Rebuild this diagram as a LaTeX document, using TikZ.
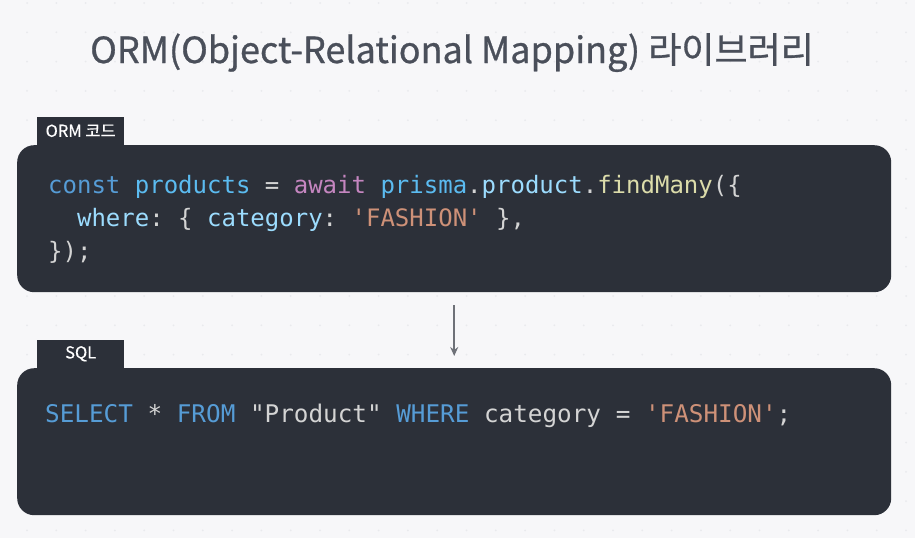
\documentclass[tikz,border=0pt]{standalone}
\usepackage{fontspec}
\setmainfont{Noto Sans CJK KR}
\setmonofont{DejaVu Sans Mono}
\usetikzlibrary{positioning,arrows.meta}

\definecolor{bgcol}{HTML}{F7F7F9}
\definecolor{dotcol}{HTML}{E9EAED}
\definecolor{boxcol}{HTML}{2C3039}
\definecolor{titlecol}{HTML}{4A4F5A}
\definecolor{kwcol}{HTML}{569CD6}
\definecolor{varcol}{HTML}{5BBBF0}
\definecolor{awcol}{HTML}{C586C0}
\definecolor{propcol}{HTML}{9CDCFE}
\definecolor{fncol}{HTML}{DCDCAA}
\definecolor{strcol}{HTML}{CE9178}
\definecolor{txtcol}{HTML}{D4D4D4}
\definecolor{arrcol}{HTML}{6E7178}

\newcommand{\kw}[1]{\textcolor{kwcol}{#1}}
\newcommand{\vr}[1]{\textcolor{varcol}{#1}}
\newcommand{\aw}[1]{\textcolor{awcol}{#1}}
\newcommand{\pr}[1]{\textcolor{propcol}{#1}}
\newcommand{\fn}[1]{\textcolor{fncol}{#1}}
\newcommand{\st}[1]{\textcolor{strcol}{#1}}

\begin{document}
\begin{tikzpicture}[x=1pt, y=-1pt,
	codebox/.style={fill=boxcol, rounded corners=17pt, minimum width=874pt, minimum height=147pt, inner sep=0pt},
	tab/.style={fill=boxcol, minimum width=87pt, minimum height=28pt, inner sep=0pt, text=white, font=\fontsize{16.5}{16.5}\selectfont\addfontfeature{FakeBold=0.3}},
	code/.style={anchor=base west, inner sep=0pt, text=txtcol, font=\ttfamily\fontsize{24}{24}\selectfont}]

	% Background and dots
	\useasboundingbox (0,0) rectangle (915,538);
	\fill[bgcol] (0,0) rectangle (915,538);
	\foreach \i in {0,...,30}
		\foreach \j in {0,...,18}
			\fill[dotcol] (27+29.3*\i, 3+29.3*\j) circle (1pt);

	% Title
	\node[anchor=base, inner sep=0pt, text=titlecol, font=\fontsize{36}{36}\selectfont\addfontfeature{FakeBold=0.8}] (title) at (452,63) {ORM(Object-Relational Mapping) 라이브러리};

	% ORM box
	\node[codebox, anchor=north west] (ormbox) at (17,145) {};
	\node[tab, anchor=south west] (ormtab) at ([xshift=20pt]ormbox.north west) {ORM 코드};

	% SQL box
	\node[codebox, anchor=north west] (sqlbox) at (17,368) {};
	\node[tab, anchor=south west] (sqltab) at ([xshift=20pt]sqlbox.north west) {SQL};

	% Arrow
	\draw[arrcol, line width=1.5pt, -{Stealth[length=9pt,width=8pt]}] ([yshift=-13pt]ormbox.south) -- ([yshift=12pt]sqlbox.north);

	% Code
	\node[code] (ormline1) at (48,193) {\kw{const} \vr{products} = \aw{await} \vr{prisma}.\pr{product}.\fn{findMany}(\{};
	\node[code] (ormline2) at (48,226) {\phantom{xx}\pr{where}: \{ \pr{category}: \st{'FASHION'} \},};
	\node[code] (ormline3) at (48,259) {\});};
	\node[code, font=\ttfamily\fontsize{24.3}{24.3}\selectfont] (sqlline) at (45,422) {\kw{SELECT} * \kw{FROM} "Product" \kw{WHERE} category = \st{'FASHION'};};

\end{tikzpicture}
\end{document}
